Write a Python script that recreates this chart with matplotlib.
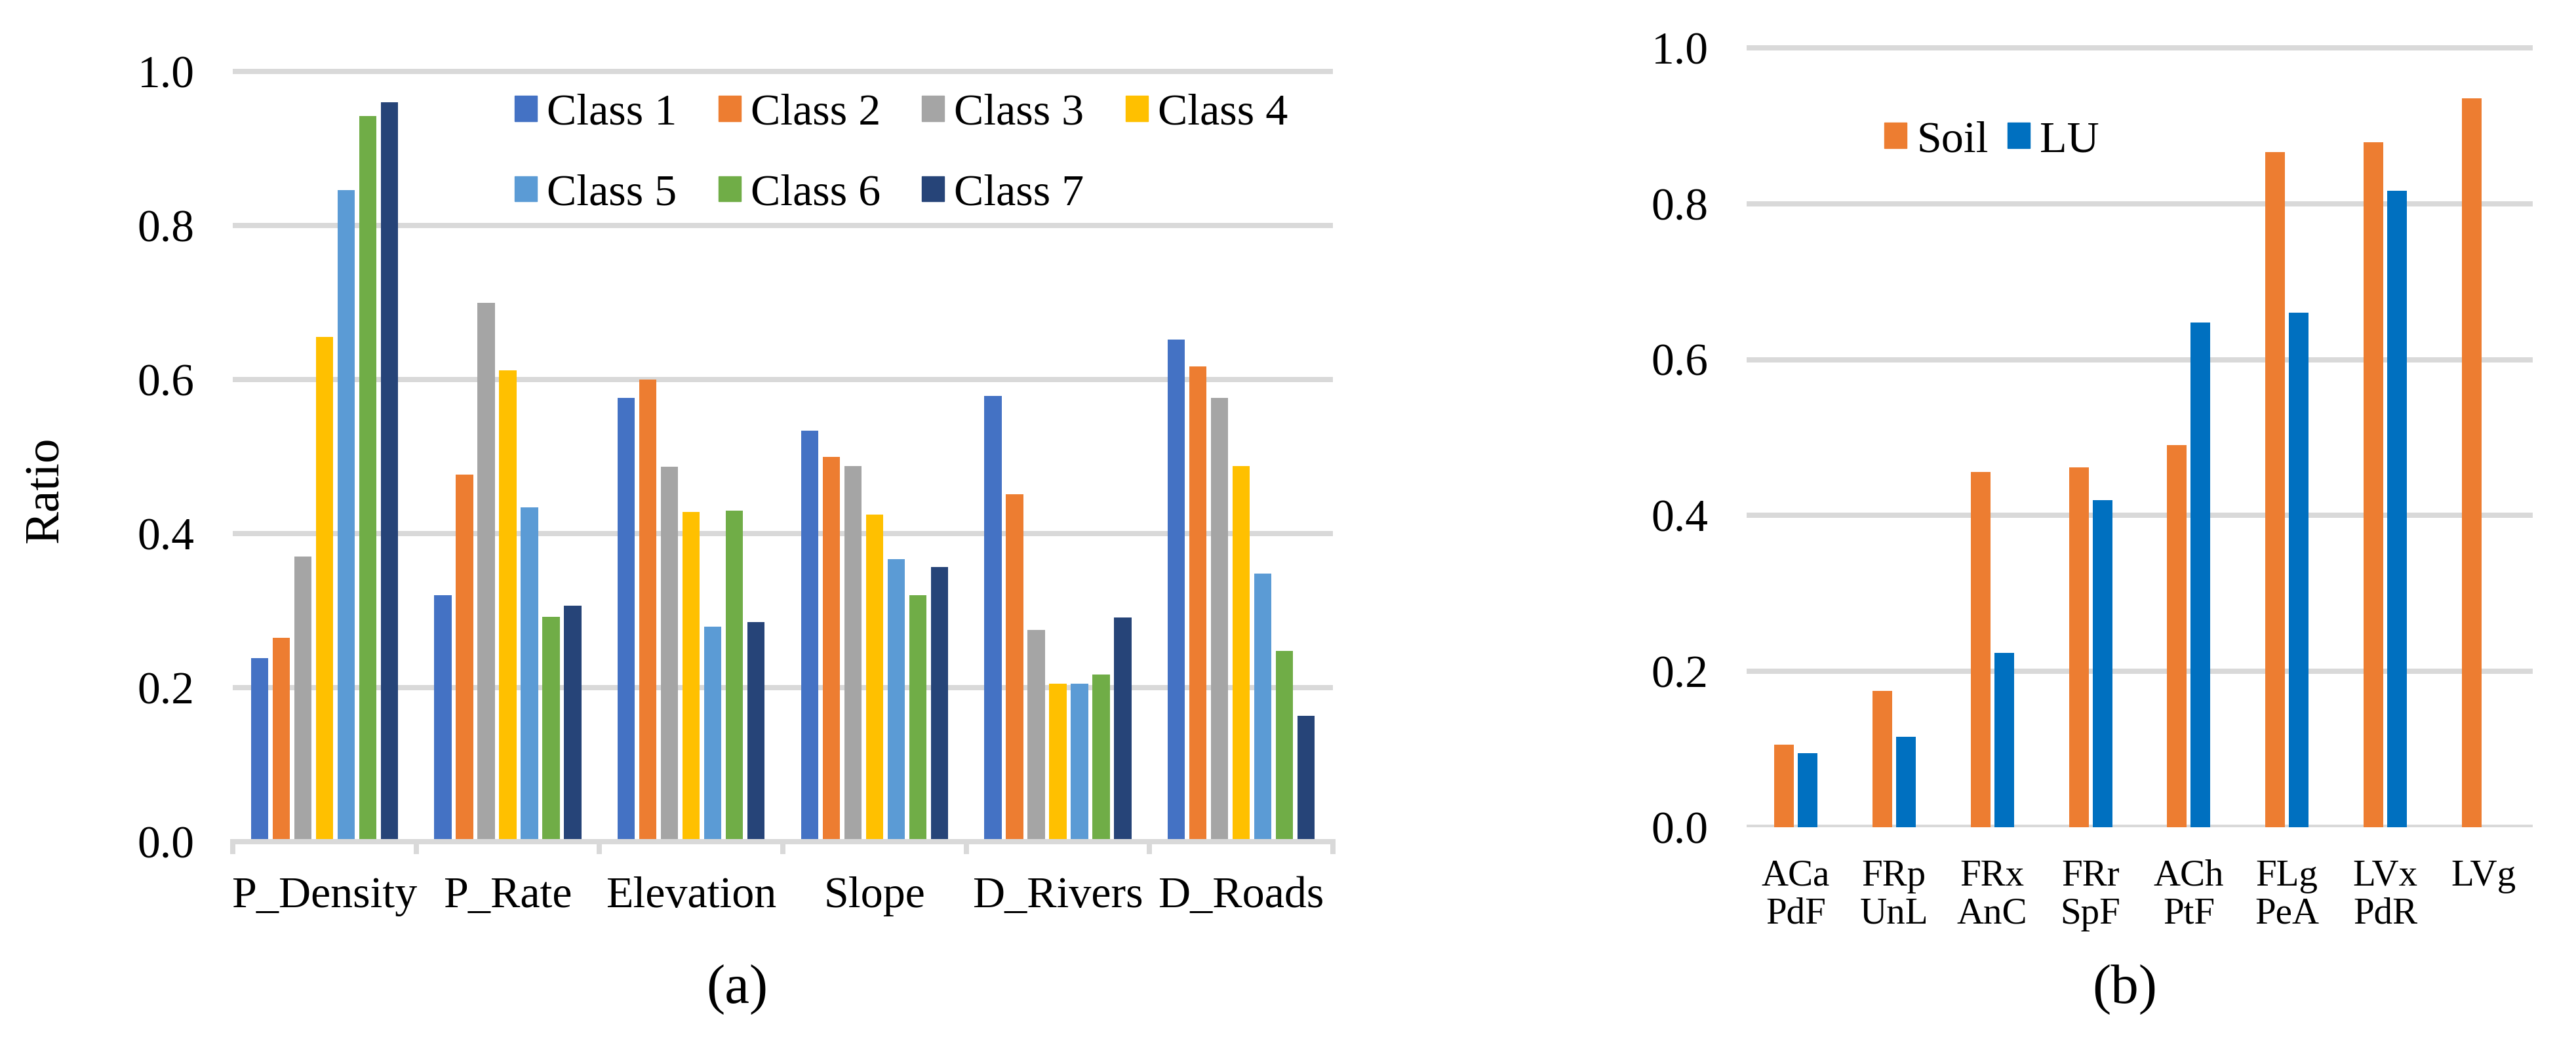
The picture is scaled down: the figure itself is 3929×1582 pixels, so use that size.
import numpy as np
import matplotlib
matplotlib.use("Agg")
import matplotlib.pyplot as plt
from matplotlib.patches import Patch
from matplotlib.transforms import IdentityTransform

plt.rcParams['font.family'] = 'serif'
plt.rcParams['font.serif'] = ['Liberation Serif', 'DejaVu Serif']

# (a) ratio of each class for every factor
factors = ["P_Density", "P_Rate", "Elevation", "Slope", "D_Rivers", "D_Roads"]
class_names = ["Class 1", "Class 2", "Class 3", "Class 4", "Class 5", "Class 6", "Class 7"]
class1 = [0.238, 0.320, 0.576, 0.534, 0.579, 0.652]
class2 = [0.265, 0.477, 0.600, 0.500, 0.451, 0.617]
class3 = [0.370, 0.700, 0.487, 0.488, 0.275, 0.576]
class4 = [0.655, 0.612, 0.428, 0.425, 0.205, 0.488]
class5 = [0.846, 0.434, 0.279, 0.367, 0.205, 0.348]
class6 = [0.942, 0.292, 0.430, 0.320, 0.217, 0.248]
class7 = [0.960, 0.306, 0.285, 0.357, 0.291, 0.163]
class_colors = ["#4472C4", "#ED7D31", "#A5A5A5", "#FFC000", "#5B9BD5", "#70AD47", "#264478"]

# (b) soil and land use types
type_labels = ["ACa\nPdF", "FRp\nUnL", "FRx\nAnC", "FRr\nSpF", "ACh\nPtF", "FLg\nPeA", "LVx\nPdR", "LVg"]
soil = [0.106, 0.175, 0.456, 0.462, 0.490, 0.866, 0.879, 0.935]
lu = [0.095, 0.116, 0.224, 0.420, 0.648, 0.660, 0.817, np.nan]

W, H, DPI = 3929, 1582, 100
GRID = "#D9D9D9"
LW = 8 * 72 / DPI


def add_axes_px(fig, x0, x1, y_zero, y_one, ymax):
    # place axes so data 0 and 1 land on given pixel rows (from top)
    unit = y_zero - y_one
    h = unit * ymax
    return fig.add_axes([x0 / W, (H - y_zero) / H, (x1 - x0) / W, h / H])


def style(ax):
    ax.set_ylim(0, 1.02)
    ax.set_yticks(np.arange(0, 1.01, 0.2))
    ax.set_yticklabels([f"{v:.1f}" for v in np.arange(0, 1.01, 0.2)])
    ax.grid(axis="y", color=GRID, linewidth=LW)
    ax.set_axisbelow(True)
    for s in ["left", "right", "top"]:
        ax.spines[s].set_visible(False)
    ax.spines["bottom"].set_color(GRID)
    ax.spines["bottom"].set_linewidth(LW)
    ax.tick_params(axis="y", length=0, labelsize=50, pad=42)


fig = plt.figure(figsize=(W / DPI, H / DPI), dpi=DPI)

# ---- (a)
ax1 = add_axes_px(fig, 355, 2033, 1284, 109, 1.02)
style(ax1)
x = np.arange(len(factors))
step, width = 0.118, 0.094
series = [class1, class2, class3, class4, class5, class6, class7]
for i, vals in enumerate(series):
    ax1.bar(x + (i - 3) * step, vals, width, color=class_colors[i], label=class_names[i])
ax1.set_xlim(-0.5, len(factors) - 0.5)
ax1.set_xticks(np.arange(-0.5, len(factors)), [""] * (len(factors) + 1))
ax1.set_xticks(x, factors, minor=True)
ax1.tick_params(axis="x", which="major", length=19 * 0.72, width=LW, color=GRID)
ax1.tick_params(axis="x", which="minor", length=0, labelsize=49, pad=38)
ax1.set_ylabel("Ratio", fontsize=54)
ax1.yaxis.set_label_coords(104 / W, 1 - 747 / H, transform=fig.transFigure)

# legend fills by column, so reorder to get rows of 4 + 3
order = [0, 4, 1, 5, 2, 6, 3]
handles = [Patch(color=class_colors[i]) for i in order]
ax1.legend(handles, [class_names[i] for i in order], ncol=4, loc="upper left",
           bbox_to_anchor=(785, H - 143), bbox_transform=IdentityTransform(),
           frameon=False, fontsize=49, handlelength=0.5, handleheight=0.5,
           handletextpad=0.22, columnspacing=0.93, labelspacing=0.9,
           borderpad=0, borderaxespad=0)

fig.text(1124 / W, 1 - 1510 / H, "(a)", fontsize=61, ha="center", va="center")

# ---- (b)
ax2 = add_axes_px(fig, 2664, 3863, 1262, 73, 1.02)
style(ax2)
ax2.spines["bottom"].set_visible(False)
xb = np.arange(len(type_labels))
ax2.bar(xb - 0.12, soil, 0.2, color="#ED7D31", label="Soil")
ax2.bar(xb + 0.12, lu, 0.2, color="#0070C0", label="LU")
ax2.set_xlim(-0.5, len(type_labels) - 0.5)
ax2.set_xticks(xb, type_labels)
for t in ax2.get_xticklabels():
    t.set_linespacing(1.15)
ax2.tick_params(axis="x", length=0, labelsize=41, pad=35)
ax2.legend([Patch(color="#ED7D31"), Patch(color="#0070C0")], ["Soil", "LU"],
           ncol=2, loc="upper left",
           bbox_to_anchor=(2874, H - 184), bbox_transform=IdentityTransform(),
           frameon=False, fontsize=49, handlelength=0.5, handleheight=0.5,
           handletextpad=0.22, columnspacing=0.44, borderpad=0, borderaxespad=0)

fig.text(3241 / W, 1 - 1510 / H, "(b)", fontsize=61, ha="center", va="center")

fig.savefig("out.png", dpi=DPI)
